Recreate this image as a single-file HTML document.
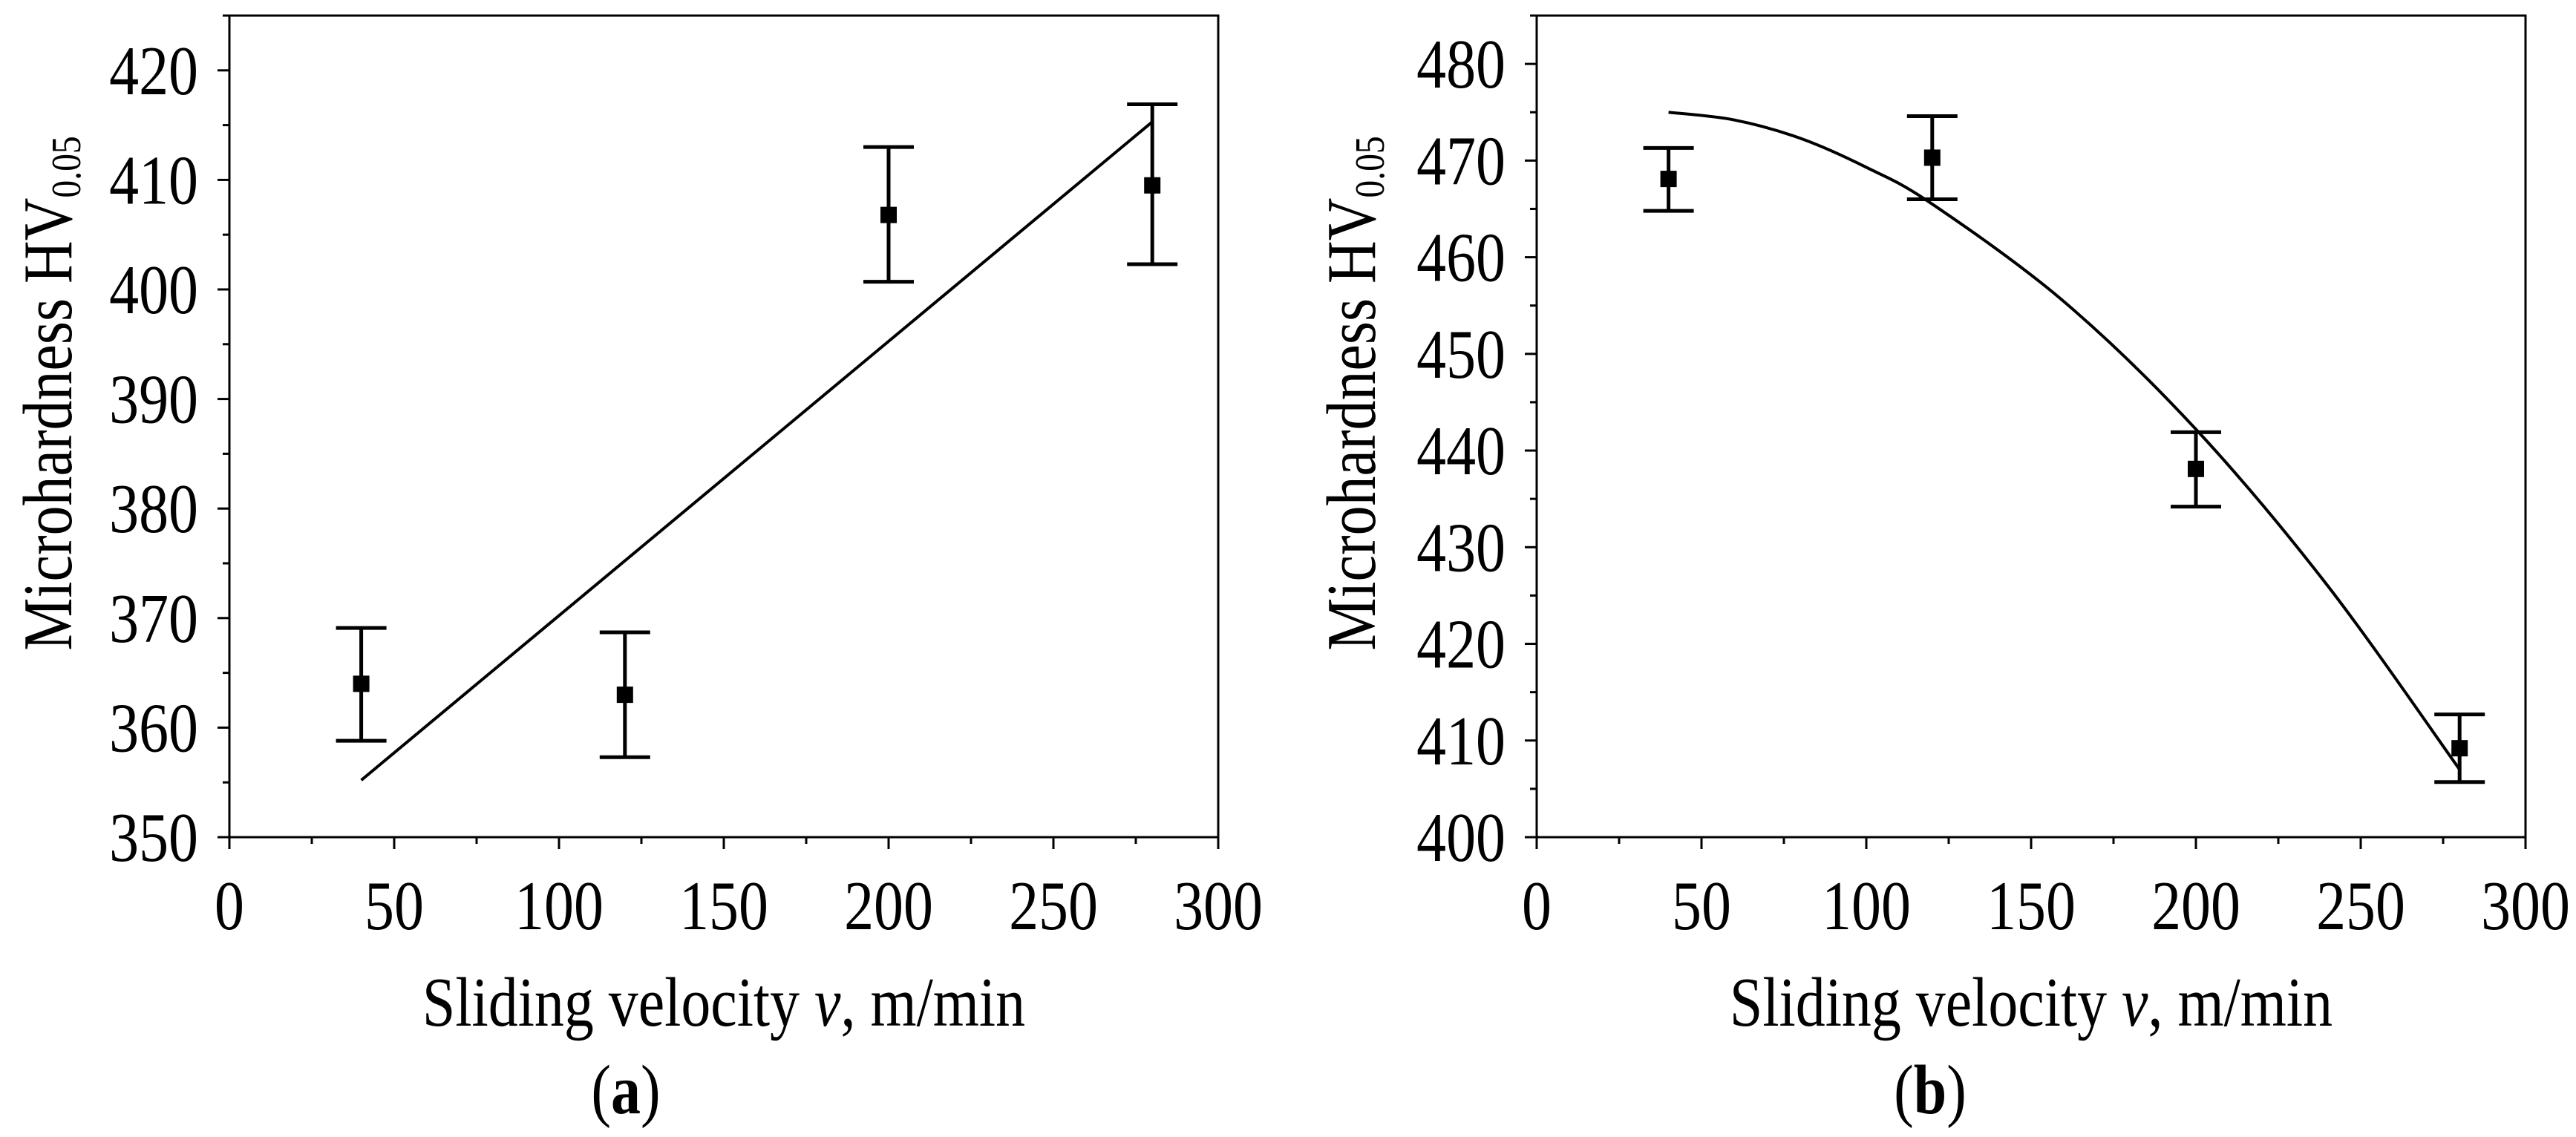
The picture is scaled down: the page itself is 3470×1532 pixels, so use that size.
<!DOCTYPE html>
<html><head><meta charset="utf-8"><style>
html,body{margin:0;padding:0;background:#fff;}
svg{display:block;}
text{font-family:"Liberation Serif","DejaVu Serif",serif;}
</style></head><body>
<svg id="fig" width="3470" height="1532" viewBox="0 0 3470 1532" xmlns="http://www.w3.org/2000/svg">
<g id="pa"></g>
<g id="pb"></g>
<text transform="translate(843,1500) scale(0.85,1)" font-size="94" text-anchor="middle">(<tspan font-weight="bold">a</tspan>)</text>
<text transform="translate(2600,1500) scale(0.85,1)" font-size="94" text-anchor="middle">(<tspan font-weight="bold">b</tspan>)</text>
</svg>
<script>
var xTicks=[0,50,100,150,200,250,300];
var aX=[40,120,200,280];
var aY=[364,363,406.8,409.5];
var aLo=[358.8,357.3,400.7,402.3];
var aHi=[369.1,368.7,413,416.9];
var aFitX=[40,280];
var aFitY=[355.2,415.3];
var aYTicks=[350,360,370,380,390,400,410,420];
var bX=[40,120,200,280];
var bY=[468.1,470.3,438.1,409.2];
var bLo=[464.8,466,434.2,405.7];
var bHi=[471.3,474.6,441.9,412.7];
var bFitX=[40,60,80,100,120,160,200,240,280];
var bFitY=[475,474.2,472.3,469.3,465.5,455.4,442.2,426,407];
var bYTicks=[400,410,420,430,440,450,460,470,480];
var NS='http://www.w3.org/2000/svg';
function mk(parent,tag,attrs){var e=document.createElementNS(NS,tag);for(var k in attrs)e.setAttribute(k,attrs[k]);parent.appendChild(e);return e;}
function txt(g,x,y,size,anchor,extra){return mk(g,'text',{transform:'translate('+x+','+y+')'+(extra||'')+' scale(0.85,1)','font-size':size,'text-anchor':anchor});}
function draw(g,L,yMin,yMax,yTicks,px,py,lo,hi,fx,fy,smooth,ytX){
  var R=L+1332,T=21,B=1128;
  function sx(v){return L+(v-0)/300*(R-L);}
  function sy(v){return B-(v-yMin)/(yMax-yMin)*(B-T);}
  var fr=mk(g,'rect',{x:L,y:T,width:R-L,height:B-T,fill:'none',stroke:'#000','stroke-width':3});
  
  
  var i,t,e;
  for(i=0;i<xTicks.length;i++){
    var x=sx(xTicks[i]);
    t=mk(g,'line',{x1:x,y1:B,x2:x,y2:B+16,stroke:'#000','stroke-width':3});
    
    
    if(i<xTicks.length-1){var xm=sx(xTicks[i]+25);
      t=mk(g,'line',{x1:xm,y1:B,x2:xm,y2:B+9,stroke:'#000','stroke-width':3});
      
      }
    e=txt(g,x,1252,94,'middle');e.textContent=xTicks[i];
    
    
  }
  for(i=0;i<yTicks.length;i++){
    var y=sy(yTicks[i]);
    t=mk(g,'line',{x1:L-16,y1:y,x2:L,y2:y,stroke:'#000','stroke-width':3});
    
    
    var ym=sy(yTicks[i]+5);
    t=mk(g,'line',{x1:L-9,y1:ym,x2:L,y2:ym,stroke:'#000','stroke-width':3});
    
    
    e=txt(g,L-42,y+32,94,'end');e.textContent=yTicks[i];
    
    
  }
  var d='';
  if(!smooth){d='M'+sx(fx[0])+','+sy(fy[0]);for(i=1;i<fx.length;i++)d+=' L'+sx(fx[i])+','+sy(fy[i]);}
  else{var P=fx.map(function(v,k){return [sx(v),sy(fy[k])];});d='M'+P[0][0]+','+P[0][1];
    for(i=0;i<P.length-1;i++){var p0=P[Math.max(0,i-1)],p1=P[i],p2=P[i+1],p3=P[Math.min(P.length-1,i+2)];
      d+=' C'+(p1[0]+(p2[0]-p0[0])/6)+','+(p1[1]+(p2[1]-p0[1])/6)+' '+(p2[0]-(p3[0]-p1[0])/6)+','+(p2[1]-(p3[1]-p1[1])/6)+' '+p2[0]+','+p2[1];}}
  e=mk(g,'path',{d:d,fill:'none',stroke:'#000','stroke-width':4});
  
  
  for(i=0;i<px.length;i++){
    var X=sx(px[i]),yl=sy(lo[i]),yh=sy(hi[i]);
    e=mk(g,'path',{d:'M'+X+','+yl+' L'+X+','+yh+' M'+(X-34)+','+yl+' L'+(X+34)+','+yl+' M'+(X-34)+','+yh+' L'+(X+34)+','+yh,stroke:'#000','stroke-width':5,fill:'none'});
    
    
    e=mk(g,'rect',{x:X-11,y:sy(py[i])-11,width:22,height:22,fill:'#000'});
    
    
  }
  e=txt(g,(L+R)/2,1382,94,'middle');
  e.innerHTML='Sliding velocity <tspan font-style="italic">v</tspan>, m/min';
  
  
  e=mk(g,'text',{transform:'translate('+ytX+',530) rotate(-90) scale(0.85,1)','font-size':94,'text-anchor':'middle'});
  e.innerHTML='Microhardness HV<tspan font-size="56" dy="12">0.05</tspan>';
  
  
}
draw(document.getElementById('pa'),309,350,425,aYTicks,aX,aY,aLo,aHi,aFitX,aFitY,false,96);
draw(document.getElementById('pb'),2070,400,485,bYTicks,bX,bY,bLo,bHi,bFitX,bFitY,true,1852);
</script>
</body></html>
